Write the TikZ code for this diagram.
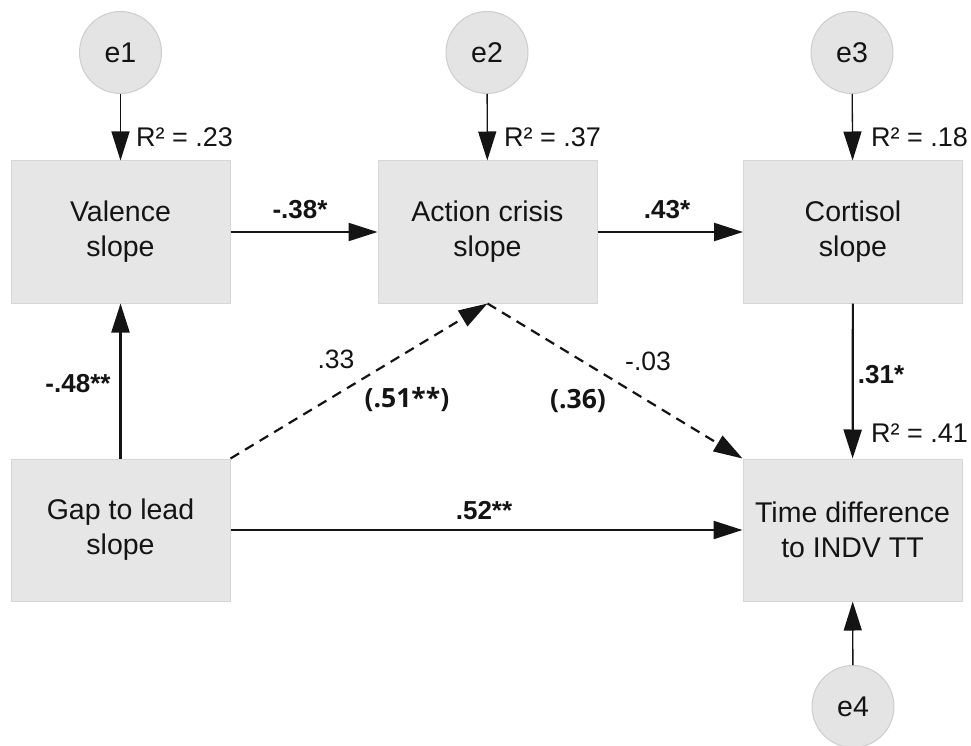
\documentclass[tikz,border=0pt]{standalone}
\usepackage{fontspec}
\setmainfont{Liberation Sans}
\newfontfamily\osans{Open Sans}
\usetikzlibrary{arrows.meta}

\definecolor{boxfill}{HTML}{E6E6E6}
\definecolor{boxedge}{HTML}{D6D6D6}
\definecolor{errfill}{HTML}{E4E4E4}
\definecolor{erredge}{HTML}{CDCDCD}
\definecolor{ink}{HTML}{141414}

\begin{document}
\begin{tikzpicture}[x=1pt,y=-1pt,
  every node/.style={text=ink},
  varbox/.style={draw=boxedge, fill=boxfill, line width=1pt,
    minimum width=219pt, minimum height=142pt, inner sep=0pt,
    align=center, font=\fontsize{28.5}{35}\selectfont},
  errnode/.style={circle, draw=erredge, fill=errfill, line width=1pt,
    minimum size=82pt, inner sep=0pt, font=\fontsize{28.5}{30}\selectfont},
  tip/.style={-{Triangle[length=29pt,width=18pt]}},
  mainpath/.style={tip, line width=2.2pt, draw=ink},
  errpath/.style={tip, line width=1.3pt, draw=ink},
  dashpath/.style={mainpath, dash pattern=on 10pt off 7pt},
  coef/.style={inner sep=0pt, font=\fontsize{26}{28}\selectfont\bfseries},
  plaincoef/.style={inner sep=0pt, font=\fontsize{26.5}{28}\selectfont},
  totalcoef/.style={inner sep=0pt, font=\osans\fontsize{26.5}{28}\selectfont\bfseries},
  rsq/.style={inner sep=0pt, anchor=west, font=\fontsize{27}{29}\selectfont},
]
\useasboundingbox[fill=white] (0,0) rectangle (971,746);

% observed variables
\node[varbox] (val)  at (120.5,232) {Valence\\slope};
\node[varbox] (act)  at (487.5,232) {Action crisis\\slope};
\node[varbox] (cort) at (853,232)   {Cortisol\\slope};
\node[varbox] (gap)  at (120.5,530) {Gap to lead\\slope};
\node[varbox] (tdiff) at (852.5,530) {Time difference\\to INDV TT};

% error terms
\node[errnode] (e1) at (120.5,52.5) {e1};
\node[errnode] (e2) at (487,52.5)   {e2};
\node[errnode] (e3) at (852,52.5)   {e3};
\node[errnode] (e4) at (853,706.5)  {e4};

% residual paths
\draw[errpath] (e1) -- (val);
\draw[errpath] (e2) -- (act);
\draw[errpath] (e3) -- (cort);
\draw[errpath] (e4) -- (tdiff);

% structural paths
\draw[mainpath] (val) -- (act);
\draw[mainpath] (act) -- (cort);
\draw[mainpath] (gap) -- (val);
\draw[mainpath] (cort) -- (tdiff);
\draw[mainpath] (gap) -- (tdiff);
\draw[dashpath] (gap.north east) -- (act.south);
\draw[dashpath] (act.south) -- (tdiff.north west);

% explained variance
\node[rsq] (r1) at (136,137) {R² = .23};
\node[rsq] (r2) at (504,137) {R² = .37};
\node[rsq] (r3) at (871,137) {R² = .18};
\node[rsq] (r4) at (871,433) {R² = .41};

% path coefficients
\node[coef] (c1) at (300,210) {-.38*};
\node[coef] (c2) at (667,210) {.43*};
\node[coef] (c3) at (78,384)  {-.48**};
\node[coef] (c4) at (881,375) {.31*};
\node[coef] (c5) at (484,511) {.52**};
\node[plaincoef] (c6) at (336,359) {.33};
\node[plaincoef] (c7) at (648,361) {-.03};
\node[totalcoef] (t1) at (407,400) {(.51**)};
\node[totalcoef] (t2) at (578,401) {(.36)};
\end{tikzpicture}
\end{document}
